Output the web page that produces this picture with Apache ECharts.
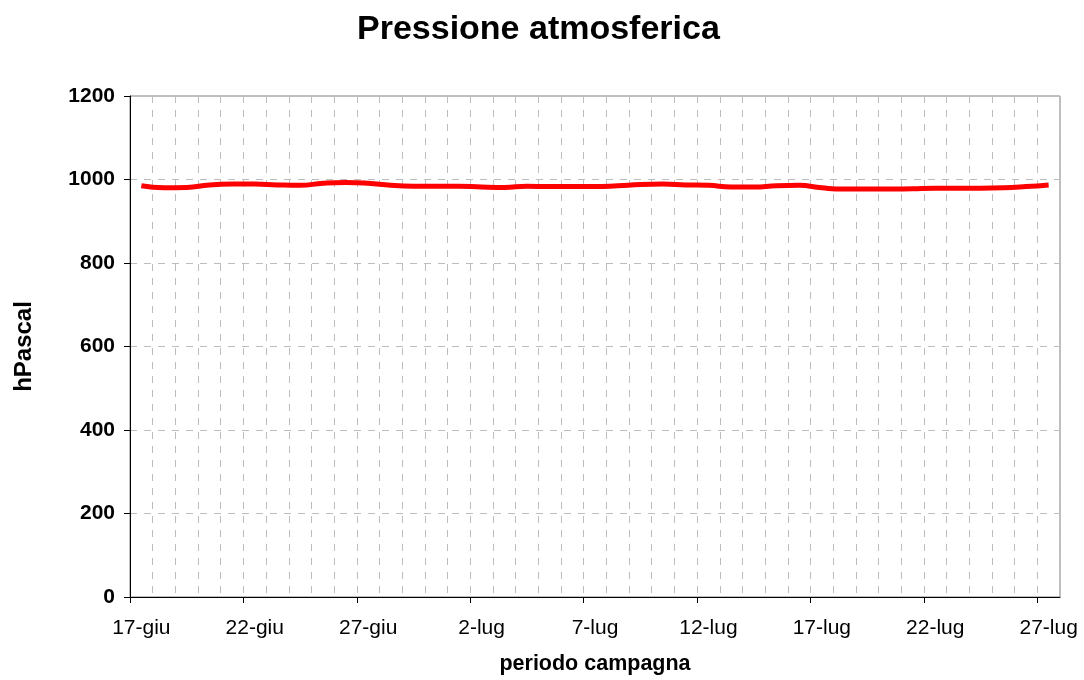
<!DOCTYPE html>
<html>
<head>
<meta charset="utf-8">
<script src="https://cdn.jsdelivr.net/npm/echarts@6/dist/echarts.min.js"></script>
<style>
html,body{margin:0;padding:0;background:#fff;}
#chart{width:1084px;height:680px;}
</style>
</head>
<body>
<div id="chart"></div>
<script>
// Day offsets from 17-giu (data sampled once a day, plotted at midday)
const dayOffsets = [0,1,2,3,4,5,6,7,8,9,10,11,12,13,14,15,16,17,18,19,20,21,22,23,24,25,26,27,28,29,30,31,32,33,34,35,36,37,38,39,40];
// Pressione atmosferica (hPa)
const pressure = [985,980,981,987,989,989,987,986,991,993,991,986,984,984,984,982,981,984,983,983,983,985,988,989,987,986,982,982,985,986,980,977,977,977,978,979,979,979,980,983,987];
// X tick positions (days from 17-giu) and their labels
const tickDays = [0,5,10,15,20,25,30,35,40];
const tickLabels = ['17-giu','22-giu','27-giu','2-lug','7-lug','12-lug','17-lug','22-lug','27-lug'];
// Y ticks
const yTicks = [0,200,400,600,800,1000,1200];

const FONT = '"Liberation Sans", Arial, sans-serif';
const chart = echarts.init(document.getElementById('chart'), null, {renderer:'canvas'});
const seriesData = dayOffsets.map((d,i)=>[d+0.5, pressure[i]]);
// labels sit centred on the day (Excel date-axis style), ticks at day start
const labelPos = tickDays.map(d=>d+0.5);

chart.setOption({
  animation:false,
  backgroundColor:'#ffffff',
  title:{
    text:'Pressione atmosferica',
    left:352,
    top:8,
    textStyle:{fontFamily:FONT,fontSize:34,fontWeight:'bold',color:'#000'}
  },
  grid:{
    left:130,right:24,top:96,bottom:81,
    show:true,borderColor:'#808080',borderWidth:1,backgroundColor:'#fff'
  },
  xAxis:[{
    type:'value',
    min:0,max:41,interval:1,
    name:'periodo campagna',
    nameLocation:'middle',
    nameGap:56,
    nameTextStyle:{fontFamily:FONT,fontSize:21.5,fontWeight:'bold',color:'#000'},
    axisLine:{show:true,onZero:false,lineStyle:{color:'#000',width:1}},
    axisTick:{show:true,length:6,inside:false,customValues:tickDays,lineStyle:{color:'#000'}},
    axisLabel:{
      customValues:labelPos,
      margin:21,
      fontFamily:FONT,fontSize:21,color:'#000',
      formatter:function(v){const i=tickDays.indexOf(Math.floor(v));return i>=0?tickLabels[i]:'';}
    },
    splitLine:{show:false},
    z:3
  },{
    type:'value',
    min:0,max:41,interval:1,
    position:'bottom',
    axisLine:{show:false},
    axisTick:{show:false},
    axisLabel:{show:false},
    splitLine:{show:true,lineStyle:{color:'#bdbdbd',type:[7,7],width:1}}
  }],
  yAxis:{
    type:'value',
    min:yTicks[0],max:yTicks[yTicks.length-1],interval:200,
    name:'hPascal',
    nameLocation:'middle',
    nameGap:94,
    nameRotate:90,
    nameTextStyle:{fontFamily:FONT,fontSize:24,fontWeight:'bold',color:'#000'},
    axisLine:{show:true,lineStyle:{color:'#000',width:1}},
    axisTick:{show:true,length:6,inside:false,lineStyle:{color:'#000'}},
    axisLabel:{margin:15,fontFamily:FONT,fontSize:21,fontWeight:'bold',color:'#000',
      formatter:function(v){return String(v);}},
    splitLine:{show:true,lineStyle:{color:'#bdbdbd',type:[7,7],width:1}}
  },
  series:[{
    type:'line',
    xAxisIndex:0,
    data:seriesData,
    smooth:0.5,
    showSymbol:false,
    lineStyle:{color:'#ff0000',width:5},
    itemStyle:{color:'#ff0000'},
    z:5
  }]
});
</script>
</body>
</html>
